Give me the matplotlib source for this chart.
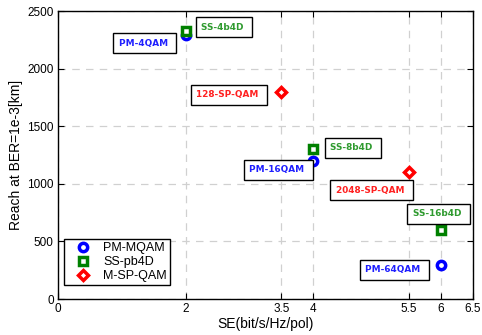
import matplotlib
matplotlib.use('Agg')
import matplotlib.pyplot as plt

plt.rcParams['font.family'] = ['Liberation Sans', 'DejaVu Sans']

# spectral efficiency (bit/s/Hz/pol) and reach (km) per format
pm_se = [2, 4, 6]
pm_reach = [2290, 1195, 295]
ss_se = [2, 4, 6]
ss_reach = [2330, 1300, 600]
sp_se = [3.5, 5.5]
sp_reach = [1800, 1100]

# point labels: text, colour, centre of the box
labels = ['PM-4QAM', 'SS-4b4D', '128-SP-QAM', 'SS-8b4D',
          'PM-16QAM', '2048-SP-QAM', 'SS-16b4D', 'PM-64QAM']
label_colors = ['#1f1fff', '#2e9a2e', '#ff2020', '#2e9a2e',
                '#1f1fff', '#ff2020', '#2e9a2e', '#1f1fff']
label_x = [1.36, 2.6, 2.68, 4.62, 3.45, 4.91, 5.96, 5.27]
label_y = [2222, 2361, 1771, 1311, 1120, 946, 738, 252]

xticks = [0, 2, 3.5, 4, 5.5, 6, 6.5]
yticks = [0, 500, 1000, 1500, 2000, 2500]

fig = plt.figure(figsize=(4.82, 3.35), dpi=100)
ax = fig.add_axes([58 / 482, 36 / 335, 415 / 482, 288 / 335])

ax.plot(pm_se, pm_reach, 'o', color='blue', mfc='white', mew=2.5, ms=6, label='PM-MQAM')
ax.plot(ss_se, ss_reach, 's', color='green', mfc='white', mew=2.5, ms=6, label='SS-pb4D')
ax.plot(sp_se, sp_reach, 'D', color='red', mfc='white', mew=2.5, ms=5.5, label='M-SP-QAM')

for t, c, x, y in zip(labels, label_colors, label_x, label_y):
    ax.text(x, y, t + ' ', color=c, fontsize=6.4, fontweight='bold',
            family=['DejaVu Sans'], ha='center', va='center',
            bbox=dict(boxstyle='square,pad=0.6', fc='white', ec='black', lw=1))

ax.set_xlim(0, 6.5)
ax.set_ylim(0, 2500)
ax.set_xticks(xticks)
ax.set_xticklabels(['0', '2', '3.5', '4', '5.5', '6', '6.5'])
ax.set_yticks(yticks)
ax.grid(True, color='#d0d0d0', linestyle=(0, (6, 5)), linewidth=0.9)
ax.tick_params(direction='in', top=True, right=True, labelsize=8.5, length=4, pad=3)
for s in ax.spines.values():
    s.set_linewidth(1)
ax.set_xlabel('SE(bit/s/Hz/pol)', fontsize=10, labelpad=1)
ax.set_ylabel('Reach at BER=1e-3[km]', fontsize=10, labelpad=3)

leg = ax.legend(loc='lower left', bbox_to_anchor=(6 / 415, 14 / 288), fontsize=9,
                fancybox=False, edgecolor='black', framealpha=1, handlelength=2.6,
                handletextpad=0.3, borderpad=0.25, labelspacing=0.15, borderaxespad=0)
leg.get_frame().set_linewidth(1)

fig.savefig('out.png', dpi=100)
